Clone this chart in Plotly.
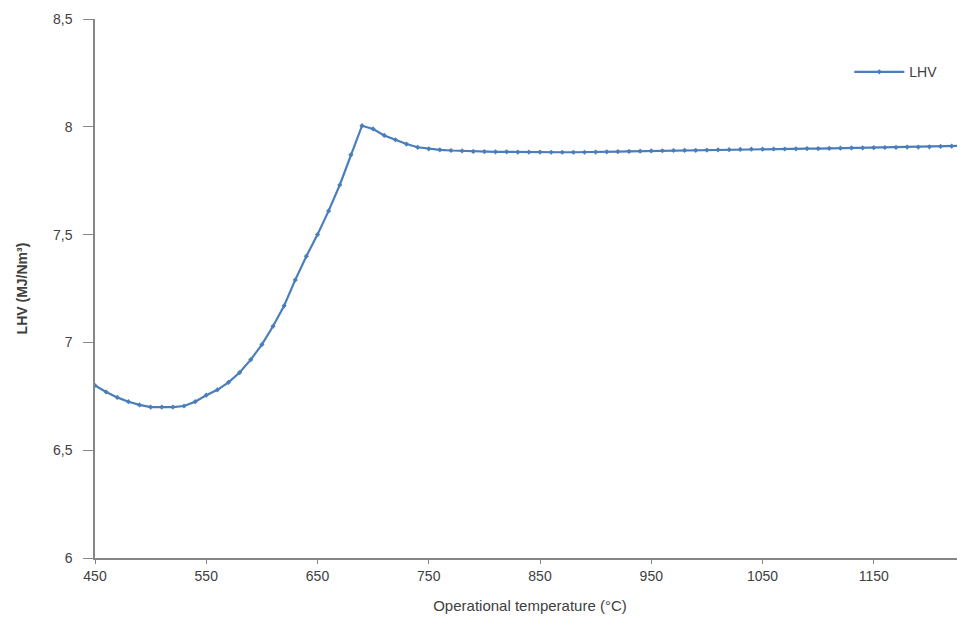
import plotly.graph_objects as go

# operational temperature (°C) and LHV (MJ/Nm3)
temperature = [450, 460, 470, 480, 490, 500, 510, 520, 530, 540,
               550, 560, 570, 580, 590, 600, 610, 620, 630, 640,
               650, 660, 670, 680, 690, 700, 710, 720, 730, 740,
               750, 760, 770, 780, 790, 800, 810, 820, 830, 840,
               850, 860, 870, 880, 890, 900, 910, 920, 930, 940,
               950, 960, 970, 980, 990, 1000, 1010, 1020, 1030, 1040,
               1050, 1060, 1070, 1080, 1090, 1100, 1110, 1120, 1130, 1140,
               1150, 1160, 1170, 1180, 1190, 1200, 1210, 1220, 1230]
lhv = [6.80, 6.77, 6.745, 6.725, 6.71, 6.70, 6.70, 6.70, 6.705, 6.725,
       6.755, 6.78, 6.815, 6.86, 6.92, 6.99, 7.075, 7.17, 7.29, 7.40,
       7.50, 7.61, 7.73, 7.87, 8.005, 7.99, 7.96, 7.94, 7.92, 7.905,
       7.898, 7.893, 7.89, 7.888, 7.886, 7.885, 7.884, 7.884, 7.883, 7.883,
       7.883, 7.882, 7.882, 7.882, 7.882, 7.883, 7.884, 7.885, 7.886, 7.887,
       7.888, 7.889, 7.89, 7.891, 7.891, 7.892, 7.893, 7.894, 7.895, 7.896,
       7.896, 7.897, 7.897, 7.898, 7.899, 7.899, 7.900, 7.901, 7.902, 7.902,
       7.903, 7.904, 7.905, 7.906, 7.906, 7.907, 7.909, 7.910, 7.912]

fig = go.Figure(go.Scatter(
    x=temperature, y=lhv, name="LHV", mode="lines+markers",
    line=dict(color="#4a7ebb", width=2.2),
    marker=dict(symbol="diamond", size=4, color="#4a7ebb"),
))

font_family = "Liberation Sans, Arial, sans-serif"
axis_font = dict(family=font_family, size=14, color="#404040")

# page body has an 8px margin, so the figure is shrunk by that much
fig.update_layout(
    width=957, height=629,
    margin=dict(l=87, r=0, t=11, b=79),
    plot_bgcolor="white", paper_bgcolor="white",
    separators=", ",
    showlegend=True,
    legend=dict(x=0.867, y=0.931, xanchor="left", yanchor="top",
                itemwidth=50,
                font=dict(family=font_family, size=14, color="#404040"),
                bgcolor="rgba(0,0,0,0)"),
    xaxis=dict(
        range=[450, 1232], tick0=450, dtick=100,
        showgrid=False, zeroline=False,
        showline=True, linecolor="#868686", linewidth=1.5,
        ticks="outside", ticklen=4, tickcolor="#868686",
        tickfont=axis_font,
        title=dict(text="Operational temperature (°C)", font=dict(family=font_family, size=15, color="#404040"), standoff=18),
    ),
    yaxis=dict(
        range=[6, 8.5], dtick=0.5,
        showgrid=False, zeroline=False,
        showline=True, linecolor="#868686", linewidth=1.5,
        ticks="outside", ticklen=10, tickcolor="#868686",
        ticklabelstandoff=8,
        tickfont=axis_font,
        title=dict(text="<b>LHV (MJ/Nm³)</b>", font=dict(family=font_family, size=14, color="#404040"), standoff=22),
    ),
)

fig.write_html("out.html")
